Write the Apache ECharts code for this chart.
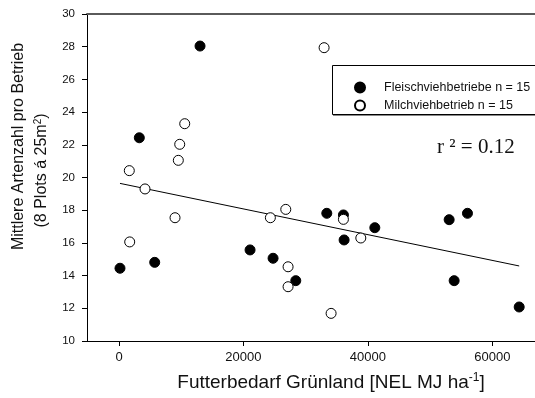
<!DOCTYPE html>
<html><head><meta charset="utf-8">
<script src="https://cdn.jsdelivr.net/npm/echarts@6/dist/echarts.min.js"></script>
<style>html,body{margin:0;padding:0;background:#fff}#c{width:535px;height:398px}</style>
</head><body><div id="c"></div>
<script>
// Fleischviehbetriebe (filled)
const fleischX = [160, 5740, 3265, 13025, 21065, 24763, 28413, 33398, 36070, 36180, 41116, 53064, 56007, 53868, 64320];
const fleischY = [14.45, 14.81, 22.43, 28.04, 15.57, 15.06, 13.69, 17.81, 17.71, 16.18, 16.93, 17.42, 17.81, 13.69, 12.08];
// Milchviehbetrieb (open)
const milchX = [10565, 9760, 9535, 1656, 32964, 4181, 9005, 1720, 24330, 26805, 27175, 27175, 36070, 38865, 34090];
const milchY = [23.29, 22.03, 21.05, 20.42, 27.94, 19.30, 17.54, 16.06, 17.54, 18.05, 14.54, 13.32, 17.44, 16.30, 11.69];
// regression line endpoints
const lineX = [160, 64320];
const lineY = [19.64, 14.59];
const xTicks = [0, 20000, 40000, 60000];
const yTicks = [10, 12, 14, 16, 18, 20, 22, 24, 26, 28, 30];
const seriesNames = ['Fleischviehbetriebe n = 15', 'Milchviehbetrieb n = 15'];

const zip = (a, b) => a.map((v, i) => [v, b[i]]);
const chart = echarts.init(document.getElementById('c'), null, {renderer: 'canvas'});
const FONT = '"Liberation Sans", Arial, sans-serif';
chart.setOption({
  animation: false,
  grid: {left: 87, right: 0, top: 14, bottom: 57, containLabel: false},
  xAxis: [{
    type: 'value', min: -5143, max: 66862,
    axisLine: {show: true, onZero: false, lineStyle: {color: '#000', width: 1}},
    axisTick: {show: true, length: 5, customValues: xTicks, lineStyle: {color: '#000'}},
    axisLabel: {customValues: xTicks, margin: 10, fontFamily: FONT, fontSize: 13, color: '#111', formatter: v => String(v)},
    splitLine: {show: false}
  }, {
    type: 'value', position: 'top', min: -5143, max: 66862,
    axisLine: {show: true, onZero: false, lineStyle: {color: '#5a5a5a', width: 2}},
    axisTick: {show: false}, axisLabel: {show: false}, splitLine: {show: false}
  }],
  yAxis: {
    type: 'value', min: 10, max: 30, interval: 2,
    axisLine: {show: true, onZero: false, lineStyle: {color: '#000', width: 1}},
    axisTick: {show: true, length: 5, customValues: yTicks, lineStyle: {color: '#000'}},
    axisLabel: {customValues: yTicks, margin: 12, fontFamily: FONT, fontSize: 11.5, color: '#111'},
    splitLine: {show: false}
  },
  legend: {
    orient: 'vertical', left: 349, top: 76, itemWidth: 10, itemHeight: 10, itemGap: 5,
    data: seriesNames,
    textStyle: {fontFamily: FONT, fontSize: 12.5, color: '#111', padding: [0, 0, 0, 14]}
  },
  series: [{
    name: seriesNames[0], type: 'scatter', symbol: 'circle', symbolSize: 10,
    itemStyle: {color: '#000', borderColor: '#000', borderWidth: 1, opacity: 1},
    data: zip(fleischX, fleischY), z: 3
  }, {
    name: seriesNames[1], type: 'scatter', symbol: 'circle', symbolSize: 10,
    itemStyle: {color: '#fff', borderColor: '#000', borderWidth: 1, opacity: 1},
    data: zip(milchX, milchY), z: 4
  }, {
    name: 'fit', type: 'line', data: zip(lineX, lineY), symbol: 'none',
    lineStyle: {color: '#000', width: 1}, z: 2, silent: true
  }],
  graphic: [
    {type: 'rect', shape: {x: 332.5, y: 65.5, width: 210, height: 49}, style: {fill: 'none', stroke: '#000', lineWidth: 1}, z: 1},
    {type: 'line', shape: {x1: 333, y1: 115.5, x2: 535, y2: 115.5}, style: {stroke: '#888', lineWidth: 1}, z: 1},
    {type: 'text', x: 437, y: 147, style: {text: 'r ² = 0.12', font: '21px "Liberation Serif", "Times New Roman", serif', fill: '#111', verticalAlign: 'middle', align: 'left'}},
    {type: 'text', x: 19, y: 146.5, rotation: Math.PI / 2, style: {text: 'Mittlere Artenzahl pro Betrieb', font: '16px ' + FONT, fill: '#111', align: 'center', verticalAlign: 'middle'}},
    {type: 'text', x: 42, y: 170.5, rotation: Math.PI / 2, style: {text: '(8 Plots á 25m{sup|2})', font: '16px ' + FONT, fill: '#111', align: 'center', verticalAlign: 'middle',
      rich: {sup: {fontSize: 10, fontFamily: FONT, verticalAlign: 'top', padding: [0, 0, 8, 0], fill: '#111'}}}},
    {type: 'text', x: 331, y: 383, style: {text: 'Futterbedarf Grünland [NEL MJ ha{sup|-1}]', font: '19px ' + FONT, fill: '#111', align: 'center', verticalAlign: 'middle',
      rich: {sup: {fontSize: 12, fontFamily: FONT, padding: [0, 0, 10, 0], fill: '#111'}}}}
  ]
});
</script></body></html>
